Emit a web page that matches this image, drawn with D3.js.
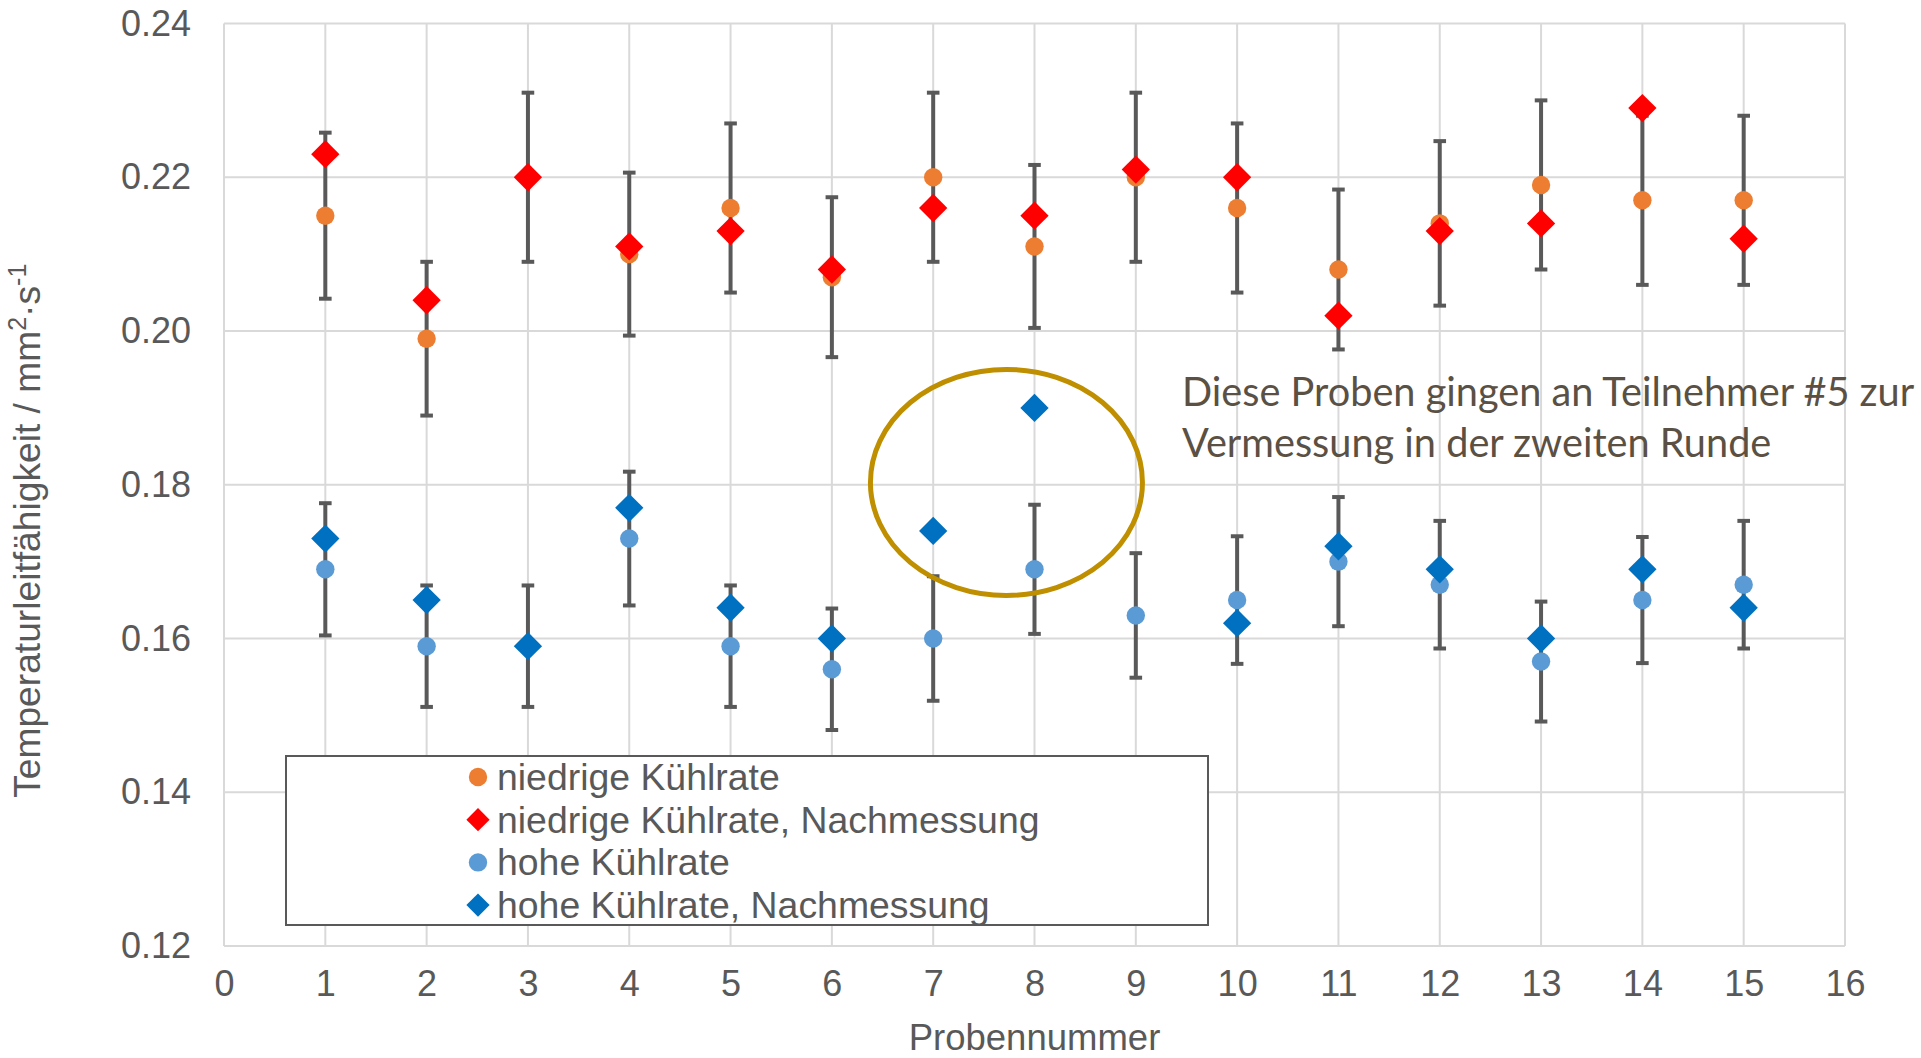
<!DOCTYPE html>
<html>
<head>
<meta charset="utf-8">
<script src="https://cdn.jsdelivr.net/npm/d3@7"></script>
<style>
  html, body { margin: 0; padding: 0; background: #ffffff; }
  svg { display: block; }
</style>
</head>
<body>
<svg id="chart" width="1921" height="1058"></svg>
<script>
// Probennummer 1..15
const samples = [1, 2, 3, 4, 5, 6, 7, 8, 9, 10, 11, 12, 13, 14, 15];

// niedrige Kühlrate (Mittelwert und Fehler)
const niedrig    = [0.215, 0.199, 0.220, 0.210, 0.216, 0.207, 0.220, 0.211, 0.220, 0.216, 0.208, 0.214, 0.219, 0.217, 0.217];
const niedrigErr = [0.0108, 0.0100, 0.0110, 0.0106, 0.0110, 0.0104, 0.0110, 0.0106, 0.0110, 0.0110, 0.0104, 0.0107, 0.0110, 0.0110, 0.0110];
// niedrige Kühlrate, Nachmessung
const niedrigNach = [0.223, 0.204, 0.220, 0.211, 0.213, 0.208, 0.216, 0.215, 0.221, 0.220, 0.202, 0.213, 0.214, 0.229, 0.212];

// hohe Kühlrate (Mittelwert und Fehler)
const hoch    = [0.169, 0.159, 0.159, 0.173, 0.159, 0.156, 0.160, 0.169, 0.163, 0.165, 0.170, 0.167, 0.157, 0.165, 0.167];
const hochErr = [0.0086, 0.0079, 0.0079, 0.0087, 0.0079, 0.0079, 0.0081, 0.0084, 0.0081, 0.0083, 0.0084, 0.0083, 0.0078, 0.0082, 0.0083];
// hohe Kühlrate, Nachmessung (Probe 9 ohne Nachmessung)
const hochNach = [0.173, 0.165, 0.159, 0.177, 0.164, 0.160, 0.174, 0.190, null, 0.162, 0.172, 0.169, 0.160, 0.169, 0.164];

const xTicks = d3.range(0, 17, 1);
const yTicks = [0.12, 0.14, 0.16, 0.18, 0.20, 0.22, 0.24];

const seriesNames = [
  "niedrige Kühlrate",
  "niedrige Kühlrate, Nachmessung",
  "hohe Kühlrate",
  "hohe Kühlrate, Nachmessung"
];
const noteLines = [
  "Diese Proben gingen an Teilnehmer #5 zur",
  "Vermessung in der zweiten Runde"
];

// ---- layout ----
const plot = { left: 224, right: 1845, top: 23.5, bottom: 946 };
const textColor = "#595959";
const gridColor = "#d9d9d9";
const axisFont = "'Liberation Sans', Arial, sans-serif";

const svg = d3.select("#chart");

const x = d3.scaleLinear().domain([0, 16]).range([plot.left, plot.right]);
const y = d3.scaleLinear().domain([0.12, 0.24]).range([plot.bottom, plot.top]);

// gridlines and plot border
const grid = svg.append("g");
grid.selectAll("line.v").data(xTicks).join("line")
  .attr("x1", d => x(d)).attr("x2", d => x(d))
  .attr("y1", plot.top).attr("y2", plot.bottom)
  .attr("stroke", gridColor).attr("stroke-width", 2);
grid.selectAll("line.h").data(yTicks).join("line")
  .attr("x1", plot.left).attr("x2", plot.right)
  .attr("y1", d => y(d)).attr("y2", d => y(d))
  .attr("stroke", gridColor).attr("stroke-width", 2);

// axes (labels only; the lines come from the grid)
const xAxis = d3.axisBottom(x).tickValues(xTicks).tickFormat(d3.format("d")).tickSize(0).tickPadding(24);
const gx = svg.append("g").attr("transform", `translate(0,${plot.bottom})`).call(xAxis);
gx.select(".domain").remove();
gx.selectAll("text").attr("font-family", axisFont).attr("font-size", 36).attr("fill", textColor);

const yAxis = d3.axisLeft(y).tickValues(yTicks).tickFormat(d3.format(".2f")).tickSize(0).tickPadding(33);
const gy = svg.append("g").attr("transform", `translate(${plot.left},0)`).call(yAxis);
gy.select(".domain").remove();
gy.selectAll("text").attr("font-family", axisFont).attr("font-size", 36).attr("fill", textColor);

// axis titles
svg.append("text")
  .attr("x", x(8)).attr("y", 1050)
  .attr("text-anchor", "middle")
  .attr("font-family", axisFont).attr("font-size", 36.5).attr("fill", textColor)
  .text("Probennummer");

const yTitle = svg.append("text")
  .attr("transform", `translate(40,${(plot.top + plot.bottom) / 2 + 46}) rotate(-90)`)
  .attr("text-anchor", "middle")
  .attr("font-family", axisFont).attr("font-size", 37.2).attr("fill", textColor);
yTitle.append("tspan").text("Temperaturleitfähigkeit / mm");
yTitle.append("tspan").attr("baseline-shift", "super").attr("font-size", 25).text("2");
yTitle.append("tspan").text("·s");
yTitle.append("tspan").attr("baseline-shift", "super").attr("font-size", 25).text("-1");

// error bars
function errorBars(values, errs) {
  const g = svg.append("g").attr("stroke", "#595959").attr("stroke-width", 4).attr("fill", "none");
  const rows = samples.map((s, i) => ({ s, v: values[i], e: errs[i] }));
  g.selectAll("line.bar").data(rows).join("line")
    .attr("x1", d => x(d.s)).attr("x2", d => x(d.s))
    .attr("y1", d => y(d.v + d.e)).attr("y2", d => y(d.v - d.e));
  g.selectAll("line.top").data(rows).join("line")
    .attr("x1", d => x(d.s) - 6.3).attr("x2", d => x(d.s) + 6.3)
    .attr("y1", d => y(d.v + d.e)).attr("y2", d => y(d.v + d.e));
  g.selectAll("line.bot").data(rows).join("line")
    .attr("x1", d => x(d.s) - 6.3).attr("x2", d => x(d.s) + 6.3)
    .attr("y1", d => y(d.v - d.e)).attr("y2", d => y(d.v - d.e));
}
errorBars(niedrig, niedrigErr);
errorBars(hoch, hochErr);

// markers
const circlePath = d3.symbol(d3.symbolCircle, Math.PI * 9.2 * 9.2)();
const diamondPath = d3.symbol(d3.symbolSquare, 400)();

function markers(values, color, shape) {
  const rows = samples.map((s, i) => ({ s, v: values[i] })).filter(d => d.v != null);
  svg.append("g").selectAll("path").data(rows).join("path")
    .attr("d", shape === "circle" ? circlePath : diamondPath)
    .attr("transform", d => `translate(${x(d.s)},${y(d.v)})` + (shape === "diamond" ? " rotate(45)" : ""))
    .attr("fill", color);
}
markers(niedrig, "#ED7D31", "circle");
markers(niedrigNach, "#FF0000", "diamond");
markers(hoch, "#5B9BD5", "circle");
markers(hochNach, "#0070C0", "diamond");

// highlight ellipse around samples 7 and 8
svg.append("ellipse")
  .attr("cx", x(7.723)).attr("cy", y(0.1803))
  .attr("rx", 136).attr("ry", 113)
  .attr("fill", "none").attr("stroke", "#BF8F00").attr("stroke-width", 5);

// note
const note = svg.append("text")
  .attr("font-family", "Lato, 'Open Sans', sans-serif").attr("font-size", 39.7).attr("fill", "#5A5044");
note.selectAll("tspan").data(noteLines).join("tspan")
  .attr("x", 1182).attr("y", (d, i) => 406 + i * 51)
  .text(d => d);

// legend
const legend = { x: 286, y: 756, w: 922, h: 169 };
svg.append("rect")
  .attr("x", legend.x).attr("y", legend.y).attr("width", legend.w).attr("height", legend.h)
  .attr("fill", "#ffffff").attr("stroke", "#595959").attr("stroke-width", 2);

const legendItems = [
  { name: seriesNames[0], color: "#ED7D31", shape: "circle" },
  { name: seriesNames[1], color: "#FF0000", shape: "diamond" },
  { name: seriesNames[2], color: "#5B9BD5", shape: "circle" },
  { name: seriesNames[3], color: "#0070C0", shape: "diamond" }
];
const legendSmallDiamond = d3.symbol(d3.symbolSquare, 270)();
const lg = svg.append("g").selectAll("g").data(legendItems).join("g")
  .attr("transform", (d, i) => `translate(478,${777 + i * 42.7})`);
lg.append("path")
  .attr("d", d => d.shape === "circle" ? circlePath : legendSmallDiamond)
  .attr("transform", d => d.shape === "diamond" ? "rotate(45)" : null)
  .attr("fill", d => d.color);
lg.append("text")
  .attr("x", 19).attr("dy", "0.35em")
  .attr("font-family", axisFont).attr("font-size", 37.4).attr("fill", textColor)
  .text(d => d.name);
</script>
</body>
</html>
